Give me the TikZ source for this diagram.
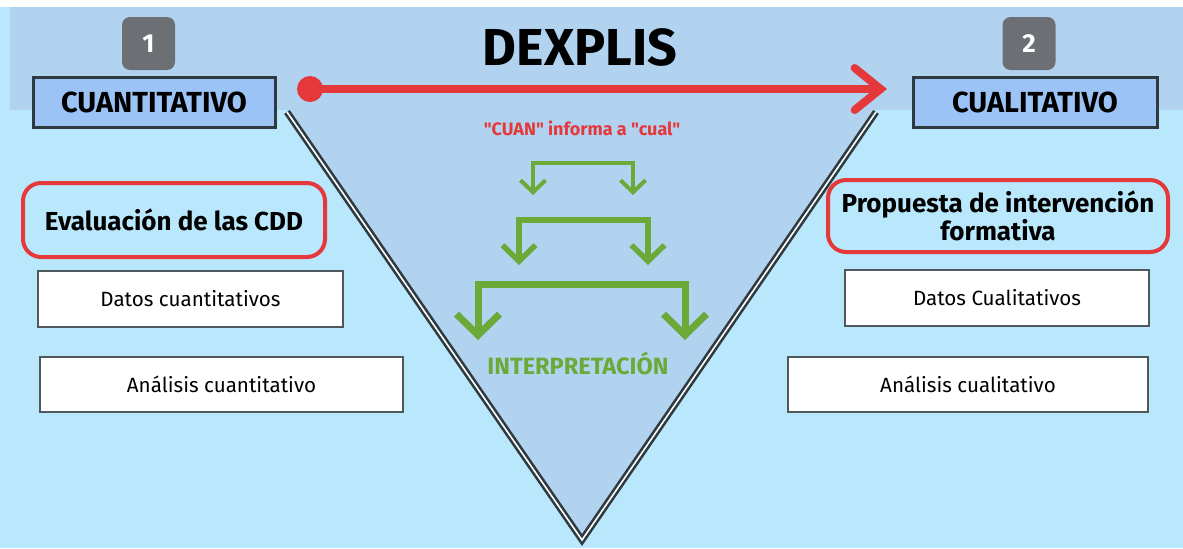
\documentclass[tikz,border=0pt]{standalone}
\usepackage{fontspec}
\setmainfont{Fira Sans}[Ligatures=TeXOff]
\usetikzlibrary{arrows.meta}

\definecolor{bandblue}{HTML}{B1D3F0}
\definecolor{skyblue}{HTML}{B9E7FB}
\definecolor{hdrblue}{HTML}{9CC3F5}
\definecolor{edgegray}{HTML}{2F3A40}
\definecolor{badgegray}{HTML}{6C6F74}
\definecolor{mred}{HTML}{E5383B}
\definecolor{mgreen}{HTML}{6BAA38}

\begin{document}
\begin{tikzpicture}[x=0.5pt, y=-0.5pt,
	hdr/.style={draw=edgegray, line width=1.5pt, fill=hdrblue, minimum width=#1, minimum height=25pt, inner sep=0pt, font=\fontsize{14.5}{16}\selectfont\bfseries},
	badge/.style={fill=badgegray, rounded corners=4pt, minimum size=26.5pt, inner sep=0pt, text=white, font=\fontsize{13}{15}\selectfont\bfseries},
	redbox/.style={draw=mred, line width=2pt, rounded corners=9pt, fill=skyblue, inner sep=0pt, font=\fontsize{13}{14}\selectfont\bfseries},
	databox/.style={draw=edgegray!85, line width=1pt, fill=white, minimum height=28pt, minimum width=#1, inner sep=0pt, font=\fontsize{10.3}{12}\selectfont},
	garrow/.style={draw=mgreen, line width=#1, line join=miter},
	]
	% background
	\useasboundingbox (0,0) rectangle (1183,548);
	\fill[white] (0,0) rectangle (1183,548);
	\fill[skyblue] (0,7) rectangle (1183,548);
	\fill[bandblue] (10,7) rectangle (1183,110);

	% the V
	\coordinate (vl) at (287,110);
	\coordinate (vb) at (582,540);
	\coordinate (vr) at (876,110);
	\fill[bandblue] (vl) -- (vb) -- (vr) -- cycle;
	\draw[edgegray, line width=3.4pt, line join=miter] ([yshift=-1pt]vl) -- (vb) -- ([yshift=-1pt]vr);
	\draw[white, line width=0.8pt, line join=miter] ([yshift=-1pt]vl) -- (vb) -- ([yshift=-1pt]vr);

	\node[font=\fontsize{26}{30}\selectfont\bfseries] (title) at (580,47) {DEXPLIS};

	% phase 1
	\node[badge] (b1) at (148.5,43.5) {1};
	\node[hdr=121pt] (cuan) at (154,102) {CUANTITATIVO};
	\node[redbox, minimum width=151pt, minimum height=37pt] (eval) at (174,220) {Evaluación de las CDD};
	\node[databox=152.5pt] (dcuan) at (190.5,298.5) {Datos cuantitativos};
	\node[databox=181.5pt, minimum height=27.5pt] (acuan) at (221.5,384.5) {Análisis cuantitativo};

	% phase 2
	\node[badge] (b2) at (1029,43.5) {2};
	\node[hdr=122pt] (cual) at (1035,102) {CUALITATIVO};
	\node[redbox, minimum width=170pt, minimum height=36pt, align=center] (prop) at (998,216) {Propuesta de intervención\\formativa};
	\node[databox=152pt] (dcual) at (997,298) {Datos Cualitativos};
	\node[databox=180pt, minimum height=27.5pt] (acual) at (968,384.5) {Análisis cualitativo};

	% red arrow
	\node[circle, fill=mred, minimum size=13pt, inner sep=0pt] (dot) at (310,89) {};
	\coordinate (redend) at (887,89);
	\draw[mred, line width=4pt, -{Straight Barb[length=13pt, width=21pt, line cap=round]}] (dot.center) -- (redend);
	\node[text=mred, font=\fontsize{9}{11}\selectfont\bfseries] (inform) at (582,128) {"CUAN" informa a "cual"};

	% green arrows
	\coordinate (g1l) at (533,195); \coordinate (g1a) at (533,163);
	\coordinate (g1b) at (633,163); \coordinate (g1r) at (633,195);
	\draw[garrow=2pt, {Straight Barb[length=6pt, width=12.5pt]}-{Straight Barb[length=6pt, width=12.5pt]}] (g1l) -- (g1a) -- (g1b) -- (g1r);
	\coordinate (g2l) at (519,265); \coordinate (g2a) at (519,220);
	\coordinate (g2b) at (648,220); \coordinate (g2r) at (648,265);
	\draw[garrow=2.75pt, {Straight Barb[length=8pt, width=16.5pt]}-{Straight Barb[length=8pt, width=16.5pt]}] (g2l) -- (g2a) -- (g2b) -- (g2r);
	\coordinate (g3l) at (478,340); \coordinate (g3a) at (478,284);
	\coordinate (g3b) at (685,284); \coordinate (g3r) at (685,340);
	\draw[garrow=3.5pt, {Straight Barb[length=10.5pt, width=21.5pt]}-{Straight Barb[length=10.5pt, width=21.5pt]}] (g3l) -- (g3a) -- (g3b) -- (g3r);
	\node[text=mgreen, font=\fontsize{11.8}{14}\selectfont\bfseries] (interp) at (578,363) {INTERPRETACIÓN};
\end{tikzpicture}
\end{document}
